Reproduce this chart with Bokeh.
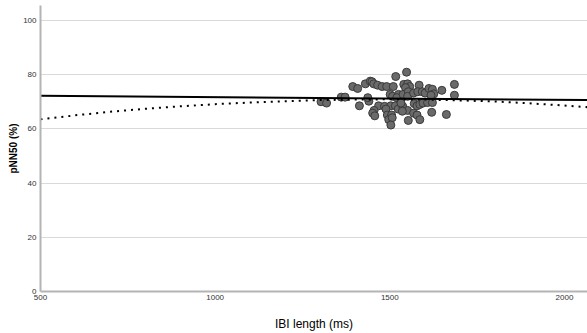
from bokeh.plotting import figure
from bokeh.models import Range1d, FixedTicker, ColumnDataSource
from bokeh.embed import file_html
from bokeh.resources import INLINE

# Scatter data: IBI length (ms) vs pNN50 (%)
ibi_ms = [1394, 1408, 1303, 1319, 1361, 1372, 1413, 1517, 1548, 1430,
          1444, 1449, 1454, 1465, 1478, 1491, 1510, 1501, 1508, 1525,
          1537, 1527, 1520, 1440, 1468, 1455, 1485, 1503, 1516, 1531,
          1451, 1457, 1489, 1493, 1505, 1497, 1507, 1503, 1524, 1537,
          1540, 1551, 1557, 1545, 1538, 1553, 1551, 1568, 1584, 1580,
          1593, 1601, 1612, 1622, 1626, 1618, 1649, 1685, 1685, 1532,
          1570, 1578, 1586, 1595, 1608, 1622, 1551, 1536, 1568, 1578,
          1586, 1553, 1620, 1662, 1437]
pnn50 = [75.6, 74.9, 70.0, 69.5, 71.7, 71.7, 68.5, 79.3, 80.9, 76.6,
         77.6, 77.4, 76.6, 76.1, 75.6, 75.6, 75.6, 72.7, 72.0, 72.7,
         72.0, 70.5, 71.5, 70.2, 68.5, 66.8, 68.3, 68.5, 68.5, 67.8,
         65.8, 64.8, 67.3, 65.1, 65.1, 63.4, 64.1, 61.4, 67.3, 68.3,
         76.4, 76.6, 75.6, 75.2, 72.7, 73.7, 72.0, 73.2, 76.1, 73.7,
         73.7, 73.2, 74.9, 74.6, 72.9, 72.4, 74.2, 76.4, 72.4, 69.5,
         69.3, 68.5, 69.0, 69.5, 69.7, 69.7, 66.8, 66.5, 65.8, 65.1,
         63.4, 63.1, 66.1, 65.3, 71.5]

# Linear fit line
lin_x = [500, 2066]
lin_y = [72.2, 70.6]

# Quadratic fit curve
quad_x = [500, 600, 700, 800, 900, 1000, 1100, 1200, 1300, 1400,
          1500, 1600, 1700, 1800, 1900, 2000, 2066]
quad_y = [63.5, 65.0, 66.3, 67.4, 68.3, 69.1, 69.7, 70.2, 70.6, 70.8,
          70.9, 70.8, 70.5, 70.1, 69.4, 68.6, 68.0]

x_ticks = [500, 1000, 1500, 2000]
y_ticks = [0, 20, 40, 60, 80, 100]

p = figure(width=587, height=333, output_backend="svg", toolbar_location=None,
           x_range=Range1d(500, 2066), y_range=Range1d(0, 105.5),
           min_border_left=40, min_border_right=0, min_border_top=5,
           min_border_bottom=42)
p.outline_line_color = None
p.background_fill_color = "white"
p.border_fill_color = "white"

p.xgrid.visible = False
p.ygrid.ticker = FixedTicker(ticks=y_ticks)
p.ygrid.grid_line_color = "#d9d9d9"
p.ygrid.grid_line_width = 1

for ax in (p.xaxis[0], p.yaxis[0]):
    ax.axis_line_color = "#b4b4b4"
    ax.axis_line_width = 2
    ax.major_tick_line_color = None
    ax.minor_tick_line_color = None
    ax.major_tick_out = 0
    ax.major_tick_in = 0
    ax.minor_tick_out = 0
    ax.major_label_text_font = "Liberation Sans"
    ax.major_label_text_font_size = "8px"
    ax.major_label_text_color = "#333333"
    ax.axis_label_text_font = "Liberation Sans"
    ax.axis_label_text_color = "#000000"

p.xaxis.ticker = FixedTicker(ticks=x_ticks)
p.yaxis.ticker = FixedTicker(ticks=y_ticks)
p.xaxis.axis_label = "IBI length (ms)"
p.xaxis.axis_label_text_font_size = "12px"
p.xaxis.axis_label_text_font_style = "normal"
p.xaxis.axis_label_standoff = 14
p.xaxis.major_label_standoff = 3
p.yaxis.axis_label = "pNN50 (%)"
p.yaxis.axis_label_text_font_size = "10px"
p.yaxis.axis_label_text_font_style = "bold"
p.yaxis.axis_label_standoff = 1
p.yaxis.major_label_standoff = 4

src = ColumnDataSource(dict(x=ibi_ms, y=pnn50))
p.scatter("x", "y", source=src, size=8, fill_color="#6a6a6a",
          line_color="#3a3a3a", line_width=1)

p.line(quad_x, quad_y, line_color="black", line_width=2, line_dash="2 5")
p.line(lin_x, lin_y, line_color="black", line_width=2)

open("out.html", "w").write(file_html(p, INLINE))
